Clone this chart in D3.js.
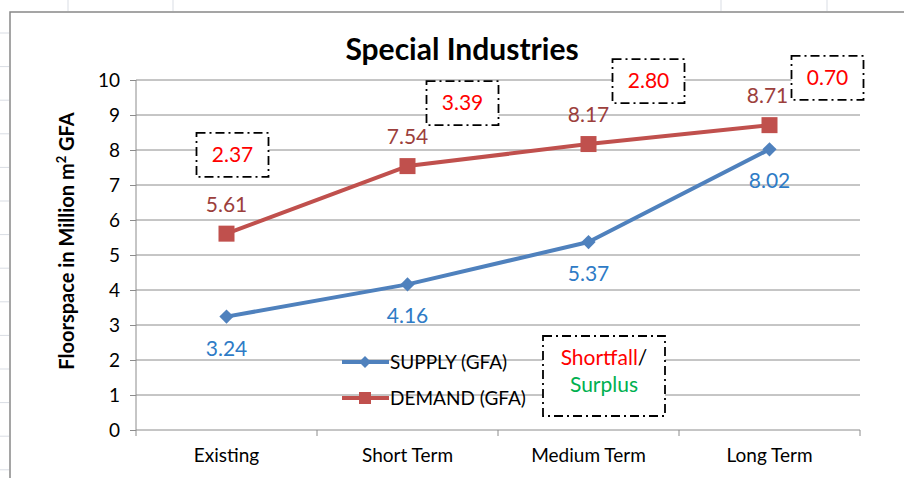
<!DOCTYPE html>
<html>
<head>
<meta charset="utf-8">
<script src="https://cdn.jsdelivr.net/npm/d3@7"></script>
<style>
  body { margin: 0; background: #fff; }
  svg text { font-family: Lato, "Open Sans", sans-serif; }
</style>
</head>
<body>
<svg id="chart" width="904" height="478"></svg>
<script>
const categories = ['Existing', 'Short Term', 'Medium Term', 'Long Term']
const supply = [3.24, 4.16, 5.37, 8.02]
const demand = [5.61, 7.54, 8.17, 8.71]
const gaps = ['2.37', '3.39', '2.80', '0.70']
const yTicks = [0, 1, 2, 3, 4, 5, 6, 7, 8, 9, 10]

const svg = d3.select('#chart')
const W = 904, H = 478

const blue = '#4f81bd'
const red = '#c0504d'

// spreadsheet cells behind the chart object
const sheet = svg.append('g').attr('stroke', '#d9dde4').attr('stroke-width', 1)
d3.range(33, H, 33.6).forEach(y => {
  sheet.append('line').attr('x1', 0).attr('x2', 9).attr('y1', y).attr('y2', y)
})
;[68, 173, 721, 827].forEach(x => {
  sheet.append('line').attr('x1', x).attr('x2', x).attr('y1', 0).attr('y2', 11)
})

// chart frame
svg.append('rect')
  .attr('x', 10).attr('y', 12).attr('width', W + 20).attr('height', H + 20)
  .attr('fill', '#fff').attr('stroke', '#888').attr('stroke-width', 1.5)

const x = d3.scaleBand().domain(categories).range([136, 860])
const y = d3.scaleLinear().domain([0, 10]).range([430, 80])
const cx = d => x(d) + x.bandwidth() / 2

// gridlines
svg.append('g')
  .selectAll('line').data(yTicks.slice(1)).join('line')
  .attr('x1', 136).attr('x2', 860)
  .attr('y1', d => y(d)).attr('y2', d => y(d))
  .attr('stroke', '#8c8c8c').attr('stroke-width', 1)

// y axis
const yAxis = svg.append('g')
  .attr('transform', 'translate(136,0)')
  .call(d3.axisLeft(y).tickValues(yTicks).tickSize(6).tickPadding(10))
yAxis.select('.domain').attr('stroke', '#8c8c8c').attr('d', 'M0,' + y(10) + 'V' + y(0))
yAxis.selectAll('.tick line').attr('stroke', '#8c8c8c')
yAxis.selectAll('text').attr('font-size', 19).attr('fill', '#000')

// x axis
const xAxis = svg.append('g')
  .attr('transform', 'translate(0,430)')
  .call(d3.axisBottom(x).tickSize(0).tickPadding(19))
xAxis.select('.domain').attr('stroke', '#8c8c8c').attr('d', 'M136,0H860')
xAxis.selectAll('text').attr('font-size', 19).attr('fill', '#000')
svg.append('g').selectAll('line')
  .data(categories.concat(['end'])).join('line')
  .attr('x1', (d, i) => i < categories.length ? x(d) : x.range()[1])
  .attr('x2', (d, i) => i < categories.length ? x(d) : x.range()[1])
  .attr('y1', 430).attr('y2', 436)
  .attr('stroke', '#8c8c8c')

// title
svg.append('text')
  .attr('x', 462).attr('y', 60).attr('text-anchor', 'middle')
  .attr('font-size', 30).attr('font-weight', 'bold')
  .text('Special Industries')

// y label
const yl = svg.append('text')
  .attr('transform', 'translate(74,' + y(5.4) + ') rotate(-90)')
  .attr('text-anchor', 'middle').attr('font-size', 20).attr('font-weight', 'bold')
yl.append('tspan').text('Floorspace in Million  m')
yl.append('tspan').attr('font-size', 13).attr('dy', -8).text('2')
yl.append('tspan').attr('dy', 8).text(' GFA')

// lines
const line = vals => d3.line().x((d, i) => cx(categories[i])).y(d => y(d))(vals)
svg.append('path').attr('d', line(supply)).attr('fill', 'none')
  .attr('stroke', blue).attr('stroke-width', 4).attr('stroke-linejoin', 'round')
svg.append('path').attr('d', line(demand)).attr('fill', 'none')
  .attr('stroke', red).attr('stroke-width', 4).attr('stroke-linejoin', 'round')

// markers
svg.append('g').selectAll('path').data(supply).join('path')
  .attr('d', d3.symbol(d3.symbolDiamond2, 130))
  .attr('transform', (d, i) => `translate(${cx(categories[i])},${y(d)})`)
  .attr('fill', blue)
svg.append('g').selectAll('rect').data(demand).join('rect')
  .attr('x', (d, i) => cx(categories[i]) - 8).attr('y', d => y(d) - 8)
  .attr('width', 16).attr('height', 16).attr('fill', red)

// data labels
svg.append('g').selectAll('text').data(supply).join('text')
  .attr('x', (d, i) => cx(categories[i])).attr('y', d => y(d) + 39)
  .attr('text-anchor', 'middle').attr('font-size', 21).attr('fill', '#2e7bc6')
  .text(d => d.toFixed(2))
svg.append('g').selectAll('text').data(demand).join('text')
  .attr('x', (d, i) => cx(categories[i]) - (i === 3 ? 2 : 0)).attr('y', d => y(d) - 22)
  .attr('text-anchor', 'middle').attr('font-size', 21).attr('fill', '#9c3f3c')
  .text(d => d.toFixed(2))

// shortfall boxes
const boxSpot = [[6, 7.86], [55, 9.34], [60, 9.97], [58, 10.06]]
const dash = '9,4,2,4'
const boxes = svg.append('g').selectAll('g').data(gaps).join('g')
  .attr('transform', (d, i) => `translate(${cx(categories[i]) + boxSpot[i][0]},${y(boxSpot[i][1])})`)
boxes.append('rect')
  .attr('x', -36).attr('y', -22).attr('width', 72).attr('height', 44)
  .attr('fill', '#fff').attr('stroke', '#000').attr('stroke-width', 1.8)
  .attr('stroke-dasharray', dash)
boxes.append('text').attr('text-anchor', 'middle').attr('y', 7)
  .attr('font-size', 21).attr('fill', '#ff0000').text(d => d)

// legend
const leg = svg.append('g')
const legItems = [['SUPPLY (GFA)', blue, 'diamond', 362], ['DEMAND (GFA)', red, 'square', 398]]
legItems.forEach(([label, col, shape, ly]) => {
  leg.append('line').attr('x1', 342).attr('x2', 389).attr('y1', ly).attr('y2', ly)
    .attr('stroke', col).attr('stroke-width', 4)
  if (shape === 'diamond') {
    leg.append('path').attr('d', d3.symbol(d3.symbolDiamond2, 90))
      .attr('transform', `translate(365,${ly})`).attr('fill', col)
  } else {
    leg.append('rect').attr('x', 359).attr('y', ly - 6).attr('width', 12).attr('height', 12).attr('fill', col)
  }
  leg.append('text').attr('x', 390).attr('y', ly + 7).attr('font-size', 19).text(label)
})

// shortfall / surplus key
const key = svg.append('g').attr('transform', 'translate(604,376)')
key.append('rect').attr('x', -61).attr('y', -40).attr('width', 122).attr('height', 80)
  .attr('fill', '#fff').attr('stroke', '#000').attr('stroke-width', 1.8)
  .attr('stroke-dasharray', dash)
const k1 = key.append('text').attr('text-anchor', 'middle').attr('y', -11).attr('font-size', 21)
k1.append('tspan').attr('fill', '#ff0000').text('Shortfall')
k1.append('tspan').attr('fill', '#000').text('/')
key.append('text').attr('text-anchor', 'middle').attr('y', 16).attr('font-size', 21)
  .attr('fill', '#00b050').text('Surplus')
</script>
</body>
</html>
